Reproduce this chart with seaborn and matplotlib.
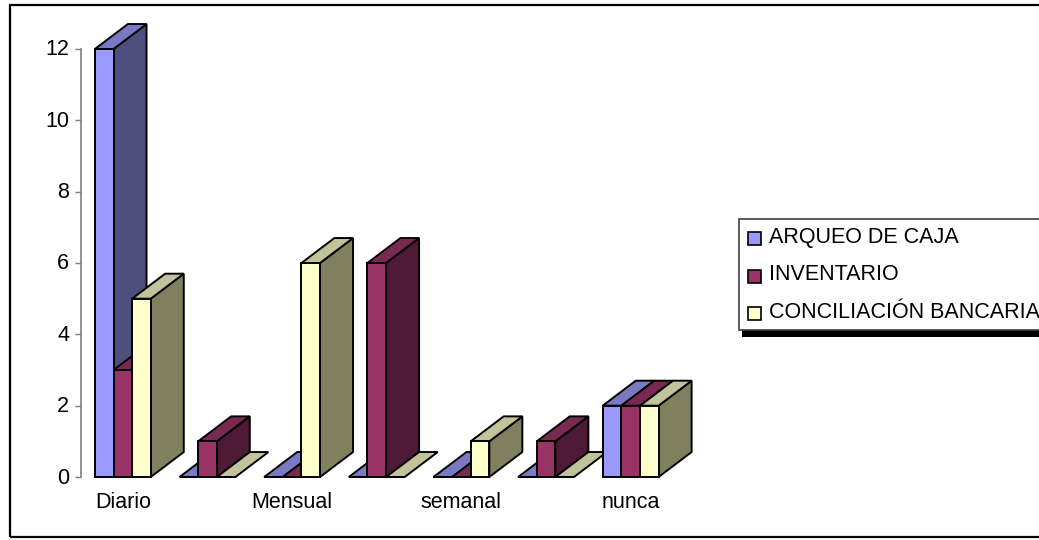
import matplotlib
matplotlib.use("Agg")
import matplotlib.pyplot as plt
from matplotlib.patches import Polygon, Rectangle
from matplotlib.transforms import ScaledTranslation
import numpy as np
import pandas as pd
import seaborn as sns

sns.set_theme(style="white")
plt.rcParams["font.family"] = ["Liberation Sans", "DejaVu Sans"]

# Only some of the categories have a label in the chart.
categorias = ["Diario", " ", "Mensual", "  ", "semanal", "   ", "nunca"]
arqueo = [12, 0, 0, 0, 0, 0, 2]
inventario = [3, 1, 0, 6, 0, 1, 2]
conciliacion = [5, 0, 6, 0, 1, 0, 2]
series = ["ARQUEO DE CAJA", "INVENTARIO", "CONCILIACIÓN BANCARIA"]

frente = ["#9999FF", "#993366", "#FFFFCC"]
arriba = ["#7A7AC4", "#7A2952", "#C2C29B"]
lado = ["#4F4F7D", "#4F1A35", "#80805F"]

W, H = 1039, 540
fig = plt.figure(figsize=(W / 100, H / 100), dpi=100)
ax = fig.add_axes([80.5 / W, 1 - 477 / H, 592.5 / W, 428 / H])

df = pd.DataFrame({"categoria": categorias, series[0]: arqueo, series[1]: inventario, series[2]: conciliacion})
dfm = df.melt(id_vars="categoria", var_name="serie", value_name="valor")
sns.barplot(data=dfm, x="categoria", y="valor", hue="serie", palette=frente, width=0.66, gap=0,
            saturation=1, dodge=True, legend=False, ax=ax)

ax.set_xlim(-0.5, 6.5)
ax.set_ylim(0, 12)
ax.set_xlabel("")
ax.set_ylabel("")
ax.set_yticks([0, 2, 4, 6, 8, 10, 12])

# Depth of the fake 3D bars, in data units.
prof_x = 0.39
prof_y = 0.70

z = 3
for c in range(len(categorias)):
    for s, cont in enumerate(ax.containers):
        b = cont.patches[c]
        x0, y0, w, h = b.get_x(), b.get_y(), b.get_width(), b.get_height()
        x1 = x0 + w
        y1 = y0 + h
        top = [(x0, y1), (x1, y1), (x1 + prof_x, y1 + prof_y), (x0 + prof_x, y1 + prof_y)]
        side = [(x1, y0), (x1 + prof_x, y0 + prof_y), (x1 + prof_x, y1 + prof_y), (x1, y1)]
        if h > 0:
            ax.add_patch(Polygon(side, closed=True, fc=lado[s], ec="black", lw=1.4, zorder=z, clip_on=False))
        ax.add_patch(Polygon(top, closed=True, fc=arriba[s], ec="black", lw=1.4, zorder=z, clip_on=False))
        b.set_edgecolor("black")
        b.set_linewidth(1.4)
        b.set_zorder(z + 0.5)
        b.set_clip_on(False)
        z += 1

for sp in ["top", "right", "bottom"]:
    ax.spines[sp].set_visible(False)
ax.spines["left"].set_color("#808080")
ax.spines["left"].set_linewidth(1.2)
ax.tick_params(axis="y", left=True, length=4.5, width=1, color="#808080", labelsize=15.5, labelcolor="black", pad=3)
ax.tick_params(axis="x", bottom=False, labelsize=15.5, labelcolor="black", pad=4.5)

# The y labels sit a little above their ticks in the original.
subir = ScaledTranslation(-1 / 100, 1.5 / 100, fig.dpi_scale_trans)
for lab in ax.get_yticklabels():
    lab.set_transform(lab.get_transform() + subir)

# Outer chart border, cut by the right side of the image.
fig.add_artist(Rectangle((9.5 / W, 1 - 537 / H), 1100 / W, 532 / H, transform=fig.transFigure,
                         fc="none", ec="black", lw=1.6))

# Legend box with its heavy shadow.
fig.add_artist(Rectangle((742 / W, 1 - 336.5 / H), 400 / W, 100 / H, transform=fig.transFigure, fc="black", ec="none", zorder=4))
fig.add_artist(Rectangle((739 / W, 1 - 329.5 / H), 400 / W, 110.5 / H, transform=fig.transFigure, fc="white", ec="#404040", lw=1.2, zorder=5))
for s, nombre in enumerate(series):
    yy = 237 + s * 37.5
    fig.add_artist(Rectangle((748 / W, 1 - (yy + 8) / H), 13 / W, 13 / H, transform=fig.transFigure,
                             fc=frente[s], ec="black", lw=1.2, zorder=6))
    fig.text(769 / W, 1 - yy / H, nombre, fontsize=15.5, color="black", va="center", ha="left", zorder=6)

fig.savefig("out.png", dpi=100)
